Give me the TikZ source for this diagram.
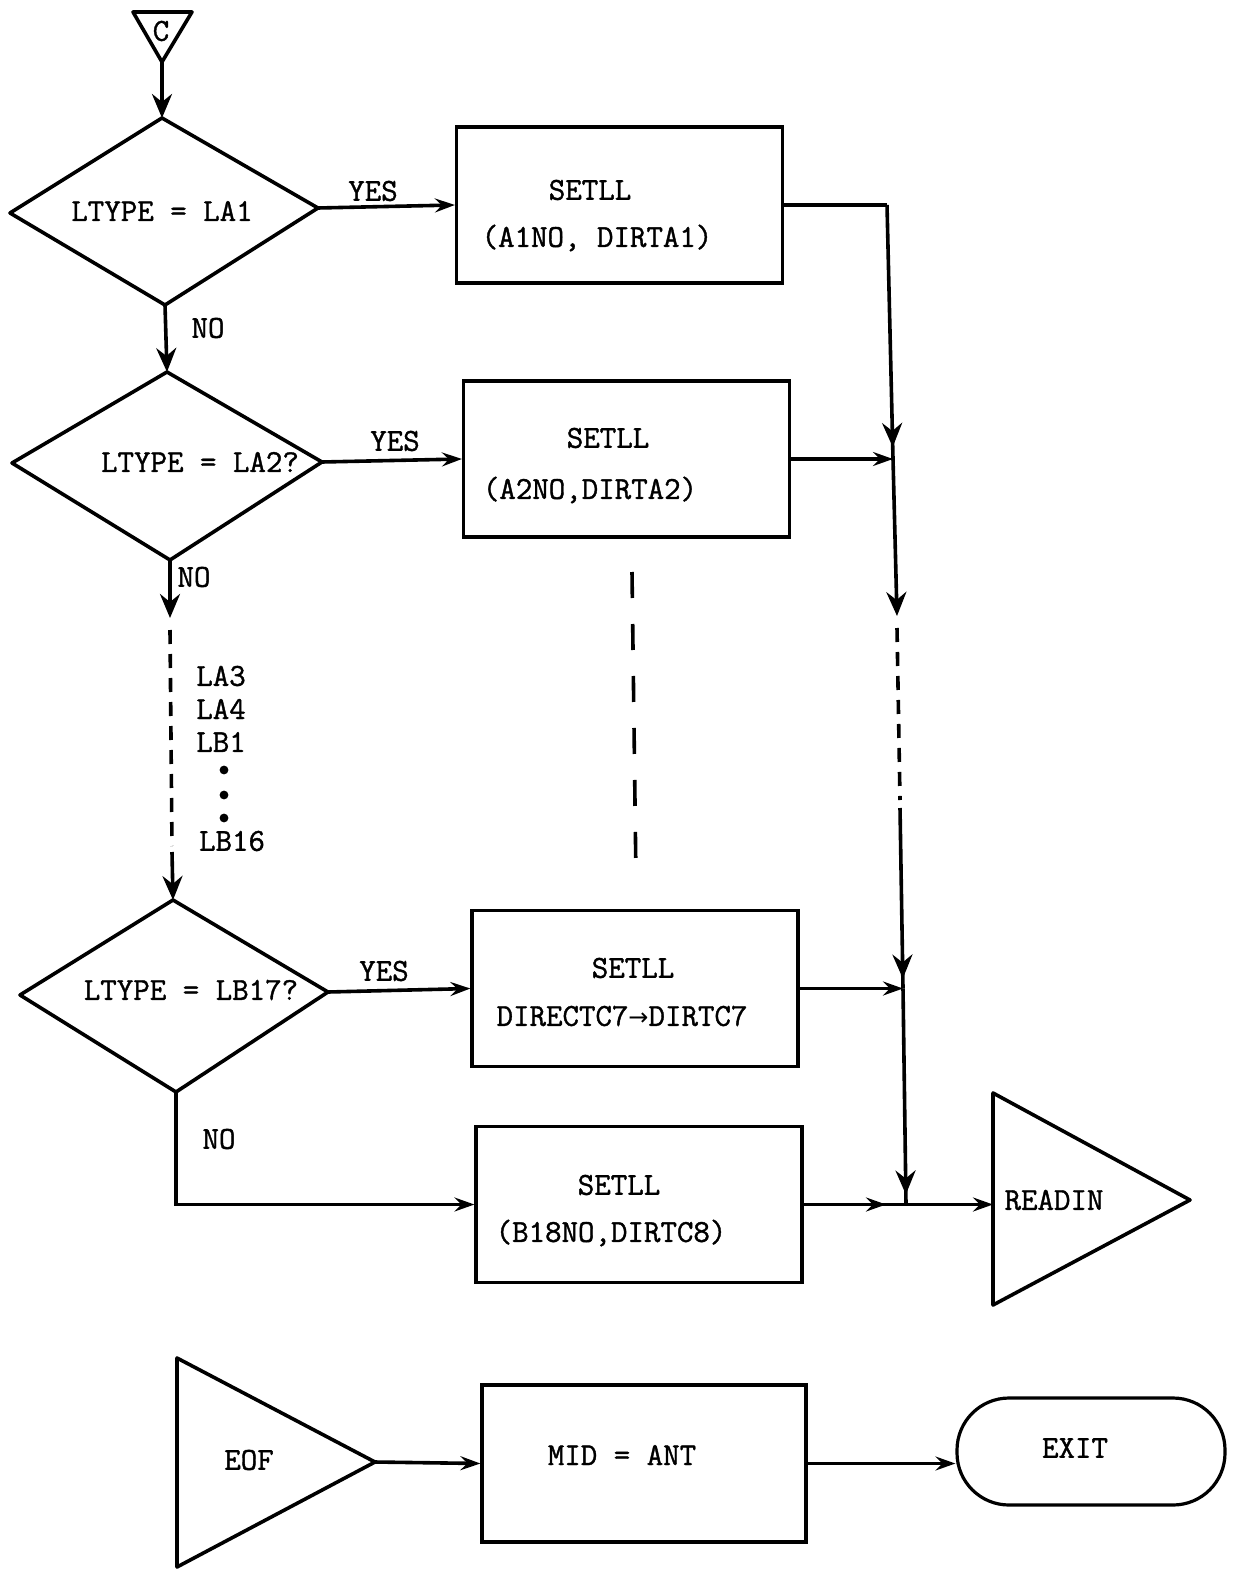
\documentclass[tikz,border=0pt]{standalone}
\usepackage{fontspec}
\newfontfamily\dejavu{DejaVu Sans}
\newfontfamily\typew[FakeBold=1.2]{Latin Modern Mono}
\usetikzlibrary{arrows.meta,decorations.markings}
\begin{document}
\begin{tikzpicture}[x=0.5pt,y=-0.5pt,
  every node/.style={font=\typew\fontsize{16}{24}\selectfont},
  ln/.style={line width=1.8pt},
  tipv/.tip={Stealth[length=12pt,width=10pt,inset=4pt]},
  tiph/.tip={Stealth[length=10pt,width=7pt,inset=3.5pt]},
  ar/.style={ln,-tiph},
  arv/.style={ln,-tipv},
  midarrow/.style={ln,decoration={markings,mark=at position #1 with {\arrow{tipv}}},postaction={decorate}},
  midarrowh/.style={ln,decoration={markings,mark=at position #1 with {\arrow{tiph}}},postaction={decorate}},
  boxn/.style={draw,line width=1.6pt,minimum width=163pt,minimum height=78pt},
  txt/.style={inner sep=0pt},
  dsh/.style={ln,dash pattern=on 7pt off 5pt},
  shp/.style={line width=1.8pt,line join=round}]
\useasboundingbox (0,0) rectangle (1232,1577);

% entry connector C
\coordinate (c1) at (133,12);
\coordinate (c2) at (192,12);
\coordinate (cap) at (162,62);
\draw[shp] (c1) -- (c2) -- (cap) -- cycle;
\node[txt] (ctext) at (161,31) {C};

% diamonds
\coordinate (d1t) at (162,118); \coordinate (d1r) at (318,208);
\coordinate (d1b) at (165,305); \coordinate (d1l) at (10,213);
\draw[shp] (d1t) -- (d1r) -- (d1b) -- (d1l) -- cycle;
\node[txt] (d1txt) at (162,211) {LTYPE = LA1};

\coordinate (d2t) at (167,372); \coordinate (d2r) at (322,462);
\coordinate (d2b) at (170,560); \coordinate (d2l) at (12,463);
\draw[shp] (d2t) -- (d2r) -- (d2b) -- (d2l) -- cycle;
\node[txt] (d2txt) at (200,462) {LTYPE = LA2?};

\coordinate (d3t) at (173,900); \coordinate (d3r) at (328,992);
\coordinate (d3b) at (176,1092); \coordinate (d3l) at (20,995);
\draw[shp] (d3t) -- (d3r) -- (d3b) -- (d3l) -- cycle;
\node[txt] (d3txt) at (191,990) {LTYPE = LB17?};

% boxes
\node[boxn] (b1) at (619.5,205) {};
\node[txt] (b1a) at (590,190) {SETLL};
\node[txt] (b1b) at (597,238) {(A1NO, DIRTA1)};
\node[boxn] (b2) at (626.5,459) {};
\node[txt] (b2a) at (608,438) {SETLL};
\node[txt] (b2b) at (590,490) {(A2NO,DIRTA2)};
\node[boxn] (b3) at (635,988.5) {};
\node[txt] (b3a) at (633,968) {SETLL};
\node[txt] (b3b) at (622,1016) {DIRECTC7{\dejavu\fontsize{12}{12}\selectfont →}DIRTC7};
\node[boxn] (b4) at (639,1204.5) {};
\node[txt] (b4a) at (619,1185) {SETLL};
\node[txt] (b4b) at (611,1233) {(B18NO,DIRTC8)};
\node[boxn,minimum width=162pt,minimum height=78.5pt] (b5) at (644,1463.5) {};
\node[txt] (b5a) at (622,1455) {MID = ANT};

% READIN and EOF triangles
\coordinate (rdt) at (993,1093); \coordinate (rdb) at (993,1305);
\coordinate (rda) at (1190,1200); \coordinate (rdw) at (993,1204.5);
\draw[shp] (rdt) -- (rda) -- (rdb) -- cycle;
\node[txt] (rdtxt) at (1054,1200) {READIN};

\coordinate (eft) at (177,1358); \coordinate (efb) at (177,1567);
\coordinate (efa) at (375,1462);
\draw[shp] (eft) -- (efa) -- (efb) -- cycle;
\node[txt] (eftxt) at (249,1460) {EOF};

% EXIT terminal
\node[draw,line width=1.6pt,rounded corners=26pt,minimum width=134pt,minimum height=53.5pt] (ex) at (1091,1451.5) {};
\node[txt] (extxt) at (1075,1448) {EXIT};

% labels
\node[txt] (y1) at (373,191) {YES};
\node[txt] (y2) at (395,441) {YES};
\node[txt] (y3) at (384,971) {YES};
\node[txt] (n1l) at (208,328) {NO};
\node[txt] (n2l) at (194,577) {NO};
\node[txt] (n3l) at (219,1139) {NO};
\node[txt] (la3) at (221,676) {LA3};
\node[txt] (la4) at (221,709) {LA4};
\node[txt] (lb1) at (221,742) {LB1};
\fill (224,770) circle (2.2pt);
\fill (224,795) circle (2.2pt);
\fill (224,818) circle (2.2pt);
\node[txt] (lb16) at (232,841) {LB16};

% main flow
\draw[arv] (cap) -- (d1t);
\draw[ar] (d1r) -- (b1.west);
\draw[arv] (d1b) -- (d2t);
\draw[ar] (d2r) -- (b2.west);
\coordinate (n1) at (170,618);
\coordinate (n1b) at (170,630);
\coordinate (n2a) at (172,846);
\coordinate (n2) at (172,852);
\draw[arv] (d2b) -- (n1);
\draw[dsh] (n1b) -- (n2a);
\draw[arv] (n2) -- (d3t);
\draw[ar] (d3r) -- (b3.west);
\draw[ar] (d3b) |- (b4.west);

% middle dashed continuation
\coordinate (m1) at (632,572);
\coordinate (m2) at (636,880);
\draw[ln,dash pattern=on 13pt off 13pt] (m1) -- (m2);

% right rail
\coordinate (r1) at (887,205);
\coordinate (j2) at (893,459);
\coordinate (r3) at (897,616);
\coordinate (r3b) at (897,628);
\coordinate (r4a) at (900,800);
\coordinate (r4) at (900,808);
\coordinate (j3) at (903,988.5);
\coordinate (j4) at (906,1204.5);
\draw[ln] (b1.east) -- (r1);
\draw[midarrow=-6pt] (r1) -- (j2);
\draw[ar] (b2.east) -- (j2);
\draw[arv] (j2) -- (r3);
\draw[dsh] (r3b) -- (r4a);
\draw[midarrow=-5pt] (r4) -- (j3);
\draw[ar] (b3.east) -- (j3);
\draw[midarrow=-5pt] (j3) -- (j4);
\draw[midarrowh=-10pt] (b4.east) -- (j4);
\draw[ar] (j4) -- (rdw);

% bottom row
\draw[ar] (efa) -- (b5.west);
\draw[ar] (b5.east) -- (b5.east -| ex.west);
\end{tikzpicture}
\end{document}
